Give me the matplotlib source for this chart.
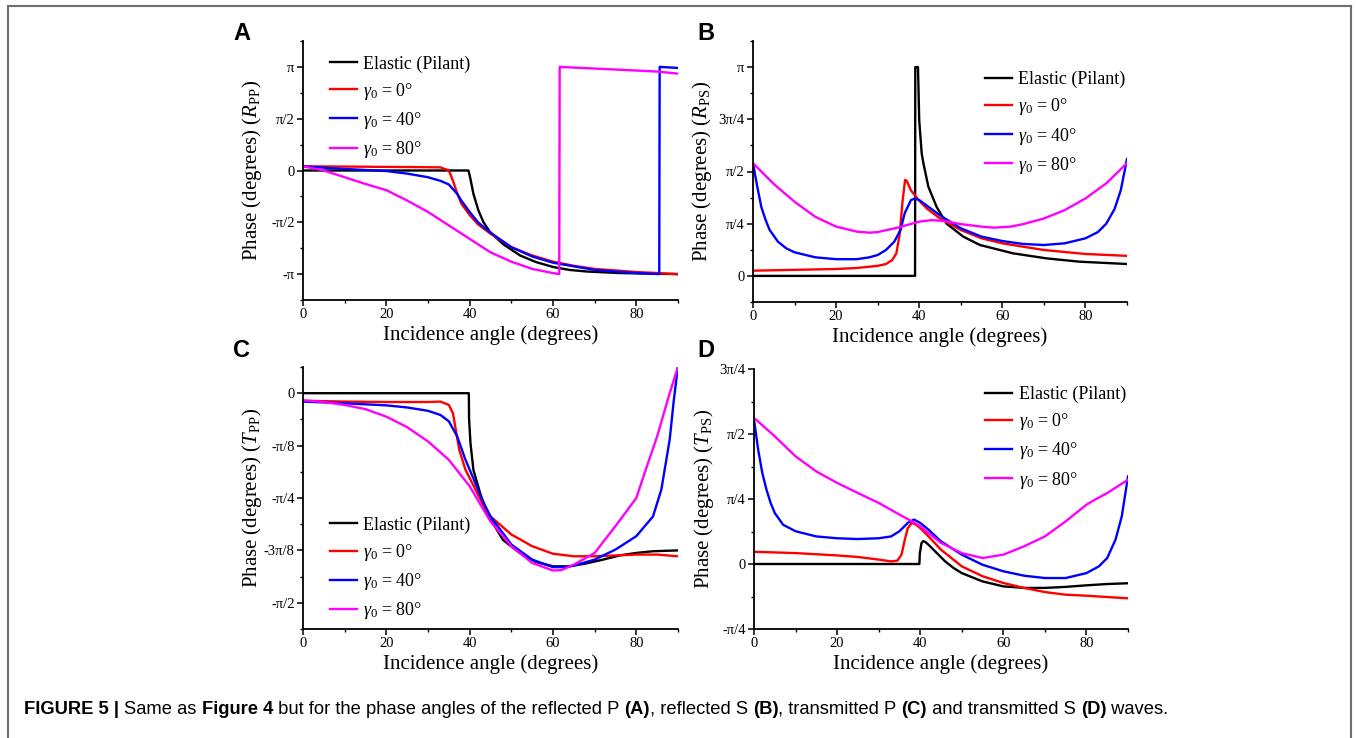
import numpy as np
import matplotlib
matplotlib.use("Agg")
import matplotlib.pyplot as plt
from matplotlib.lines import Line2D
from matplotlib.ticker import MultipleLocator, FixedLocator

plt.rcParams.update({
    "font.family": "Liberation Serif",
    "mathtext.fontset": "custom",
    "mathtext.rm": "Liberation Serif",
    "mathtext.it": "Liberation Serif:italic",
    "axes.linewidth": 1.3,
})

W, H = 1356, 738
PI = np.pi

LABELS = ["Elastic (Pilant)", r"$\gamma_0$ = 0°", r"$\gamma_0$ = 40°", r"$\gamma_0$ = 80°"]
COLORS = ["black", "#ff0000", "#0000ff", "#ff00ff"]

# ---- panel A: R_PP phase (units of pi) ----
a_el_x = [0, 39.7, 40.1, 40.9, 42.1, 43.3, 44.9, 48.1, 52.1, 56, 60.1, 64, 68.1, 76, 90]
a_el_y = [0, 0, -0.064, -0.225, -0.386, -0.498, -0.595, -0.713, -0.82, -0.885, -0.932, -0.96, -0.975, -0.99, -1.0]
a_g0_x = [0, 10, 20, 30, 33, 35, 36, 37, 38, 40, 42, 45, 50, 55, 60, 65, 70, 80, 90]
a_g0_y = [0.04, 0.038, 0.035, 0.032, 0.03, 0.0, -0.1, -0.22, -0.32, -0.43, -0.52, -0.61, -0.74, -0.82, -0.88, -0.92, -0.95, -0.98, -1.0]
a_g40_x = [0, 10, 20, 25, 30, 33, 35, 37, 38, 40, 42, 45, 50, 55, 60, 70, 80, 85.5, 85.6, 90]
a_g40_y = [0.04, 0.015, -0.005, -0.03, -0.065, -0.1, -0.135, -0.225, -0.29, -0.40, -0.5, -0.6, -0.74, -0.83, -0.89, -0.96, -0.99, -1.0, 1.0, 0.99]
a_g80_x = [0, 5, 10, 15, 20, 25, 30, 35, 40, 45, 50, 55, 60, 61.5, 61.6, 70, 80, 85, 90]
a_g80_y = [0.04, 0.0, -0.065, -0.13, -0.19, -0.29, -0.40, -0.53, -0.66, -0.79, -0.88, -0.95, -0.99, -1.0, 1.0, 0.984, 0.965, 0.955, 0.935]

# ---- panel B: R_PS phase ----
b_el_x = [0, 39.0, 39.05, 39.7, 40.0, 40.6, 41.0, 42.2, 44.2, 46.6, 50.6, 54.6, 62.6, 70.6, 78.6, 90]
b_el_y = [0, 0, 1.0, 1.0, 0.745, 0.586, 0.54, 0.427, 0.33, 0.25, 0.188, 0.148, 0.108, 0.084, 0.068, 0.057]
b_g0_x = [0, 10, 20, 25, 30, 32, 33.5, 34.5, 35.3, 36, 36.6, 37, 38, 40, 42, 45, 50, 55, 60, 70, 80, 90]
b_g0_y = [0.025, 0.029, 0.033, 0.038, 0.048, 0.057, 0.076, 0.108, 0.2, 0.36, 0.46, 0.455, 0.41, 0.36, 0.32, 0.275, 0.22, 0.18, 0.156, 0.124, 0.105, 0.096]
b_g40_x = [0, 1, 2, 3, 4, 6, 8, 10, 15, 20, 25, 28, 30, 32, 34, 35.5, 36.5, 38, 39, 40, 42, 45, 50, 55, 60, 65, 70, 75, 80, 83, 85, 87, 88.5, 90]
b_g40_y = [0.54, 0.43, 0.33, 0.27, 0.22, 0.164, 0.132, 0.113, 0.089, 0.08, 0.08, 0.089, 0.1, 0.124, 0.164, 0.22, 0.3, 0.363, 0.371, 0.363, 0.334, 0.29, 0.228, 0.188, 0.167, 0.153, 0.148, 0.156, 0.18, 0.21, 0.25, 0.32, 0.41, 0.56]
b_g80_x = [0, 5, 10, 15, 20, 25, 28, 30, 35, 40, 43, 46, 50, 55, 58, 62, 65, 70, 75, 80, 85, 90]
b_g80_y = [0.54, 0.44, 0.355, 0.283, 0.236, 0.212, 0.207, 0.21, 0.232, 0.26, 0.267, 0.263, 0.248, 0.236, 0.231, 0.236, 0.248, 0.275, 0.315, 0.371, 0.443, 0.54]

# ---- panel C: T_PP phase ----
c_el_x = [0, 39.8, 39.85, 40.2, 40.9, 42.5, 44.1, 48, 52, 56, 60, 64, 68, 72, 76, 80, 84, 90]
c_el_y = [0, 0, -0.06, -0.12, -0.183, -0.238, -0.286, -0.35, -0.381, -0.403, -0.413, -0.413, -0.406, -0.397, -0.387, -0.381, -0.377, -0.375]
c_g0_x = [0, 10, 20, 30, 33, 35, 36, 36.8, 37.5, 39, 41, 43, 45, 50, 55, 60, 65, 70, 75, 80, 85, 90]
c_g0_y = [-0.018, -0.02, -0.021, -0.021, -0.02, -0.028, -0.048, -0.095, -0.135, -0.183, -0.222, -0.262, -0.294, -0.337, -0.365, -0.383, -0.389, -0.389, -0.387, -0.385, -0.385, -0.389]
c_g40_x = [0, 10, 20, 25, 30, 33, 35, 37, 39, 41, 43, 45, 50, 55, 60, 63, 65, 70, 75, 80, 84, 86, 88, 89, 90]
c_g40_y = [-0.02, -0.024, -0.029, -0.034, -0.042, -0.052, -0.067, -0.103, -0.159, -0.206, -0.254, -0.294, -0.361, -0.397, -0.415, -0.415, -0.411, -0.397, -0.373, -0.341, -0.294, -0.23, -0.111, -0.016, 0.065]
c_g80_x = [0, 5, 10, 15, 20, 25, 30, 35, 40, 45, 50, 55, 60, 62, 65, 70, 75, 80, 82, 85, 88, 90]
c_g80_y = [-0.017, -0.021, -0.028, -0.038, -0.056, -0.081, -0.115, -0.159, -0.222, -0.306, -0.365, -0.405, -0.423, -0.422, -0.409, -0.381, -0.317, -0.25, -0.19, -0.103, 0.0, 0.063]

# ---- panel D: T_PS phase ----
d_el_x = [0, 39.8, 39.9, 40.3, 40.7, 41.2, 42, 44, 46, 48, 50, 55, 60, 65, 70, 75, 80, 85, 90]
d_el_y = [0, 0, 0.04, 0.08, 0.088, 0.085, 0.074, 0.042, 0.01, -0.015, -0.035, -0.067, -0.086, -0.092, -0.092, -0.088, -0.082, -0.077, -0.074]
d_g0_x = [0, 10, 20, 25, 30, 33, 34.5, 35.5, 36.3, 37, 38, 39, 40, 42, 45, 50, 55, 60, 65, 70, 75, 80, 85, 90]
d_g0_y = [0.047, 0.042, 0.033, 0.027, 0.017, 0.01, 0.013, 0.036, 0.094, 0.138, 0.158, 0.151, 0.138, 0.106, 0.055, -0.009, -0.047, -0.073, -0.092, -0.108, -0.118, -0.122, -0.127, -0.132]
d_g40_x = [0, 1, 2, 3, 4, 5, 7, 10, 15, 20, 25, 30, 33, 35, 37, 38.5, 40, 42, 45, 50, 55, 60, 65, 70, 75, 80, 83, 85, 87, 88.5, 90]
d_g40_y = [0.555, 0.44, 0.35, 0.286, 0.235, 0.196, 0.151, 0.126, 0.106, 0.099, 0.096, 0.099, 0.106, 0.126, 0.158, 0.171, 0.158, 0.132, 0.087, 0.036, -0.003, -0.028, -0.045, -0.054, -0.054, -0.035, -0.009, 0.023, 0.094, 0.183, 0.337]
d_g80_x = [0, 5, 10, 15, 20, 25, 30, 35, 38, 40, 42, 45, 50, 55, 60, 65, 70, 75, 80, 82, 85, 90]
d_g80_y = [0.562, 0.491, 0.414, 0.356, 0.312, 0.273, 0.235, 0.19, 0.164, 0.145, 0.119, 0.081, 0.042, 0.023, 0.036, 0.068, 0.106, 0.164, 0.228, 0.247, 0.273, 0.324]

fig = plt.figure(figsize=(W / 100, H / 100), dpi=100)


def px_axes(left, top, right, bottom):
    return fig.add_axes([left / W, 1 - bottom / H, (right - left) / W, (bottom - top) / H])


def panel(ax, series, ylim, major, minor, ticklabels, ylab, ylab_x, leg_loc, leg_anchor):
    for (xs, ys), col, lab in zip(series, COLORS, LABELS):
        ax.plot(xs, np.array(ys) * PI, color=col, lw=1.7, label=lab)
    ax.set_xlim(0, 90)
    ax.set_ylim(ylim[0] * PI, ylim[1] * PI)
    ax.xaxis.set_major_locator(MultipleLocator(20))
    ax.xaxis.set_minor_locator(MultipleLocator(10))
    ax.yaxis.set_major_locator(FixedLocator([m * PI for m in major]))
    ax.yaxis.set_minor_locator(FixedLocator([m * PI for m in minor]))
    ax.set_yticklabels(ticklabels)
    for s in ("top", "right"):
        ax.spines[s].set_visible(False)
    ax.tick_params(which="major", direction="out", length=4, width=1.1, labelsize=10.5, pad=2)
    ax.tick_params(which="minor", direction="out", length=2.5, width=1.0)
    ax.set_xlabel("Incidence angle (degrees)", fontsize=15, labelpad=3)
    ax.set_ylabel(ylab, fontsize=15)
    # put the y label's right edge at a fixed pixel column
    bb = ax.get_position()
    ax.yaxis.set_label_coords((ylab_x / W - bb.x0) / bb.width, 0.5)
    ax.legend(loc=leg_loc, bbox_to_anchor=leg_anchor, frameon=False, fontsize=13,
              handlelength=1.5, handletextpad=0.35, labelspacing=0.45,
              borderpad=0, borderaxespad=0)


axA = px_axes(303, 41, 678, 300)
panel(axA, [(a_el_x, a_el_y), (a_g0_x, a_g0_y), (a_g40_x, a_g40_y), (a_g80_x, a_g80_y)],
      (-1.25, 1.25), [-1, -0.5, 0, 0.5, 1], np.arange(-1.25, 1.26, 0.25),
      ["-π", "-π/2", "0", "π/2", "π"], r"Phase (degrees) ($\mathit{R}_{\rm PP}$)", 264,
      "upper left", (0.072, 0.945))

axB = px_axes(753, 41, 1127, 302)
panel(axB, [(b_el_x, b_el_y), (b_g0_x, b_g0_y), (b_g40_x, b_g40_y), (b_g80_x, b_g80_y)],
      (-0.125, 1.125), [0, 0.25, 0.5, 0.75, 1], np.arange(-0.125, 1.126, 0.125),
      ["0", "π/4", "π/2", "3π/4", "π"], r"Phase (degrees) ($\mathit{R}_{\rm PS}$)", 714,
      "upper left", (0.62, 0.885))

axC = px_axes(303, 367, 678, 629)
panel(axC, [(c_el_x, c_el_y), (c_g0_x, c_g0_y), (c_g40_x, c_g40_y), (c_g80_x, c_g80_y)],
      (-0.5625, 0.0625), [-0.5, -0.375, -0.25, -0.125, 0], np.arange(-0.5625, 0.07, 0.0625),
      ["-π/2", "-3π/8", "-π/4", "-π/8", "0"], r"Phase (degrees) ($\mathit{T}_{\rm PP}$)", 264,
      "lower left", (0.072, 0.03))

axD = px_axes(754, 369, 1128, 629)
panel(axD, [(d_el_x, d_el_y), (d_g0_x, d_g0_y), (d_g40_x, d_g40_y), (d_g80_x, d_g80_y)],
      (-0.25, 0.75), [-0.25, 0, 0.25, 0.5, 0.75], np.arange(-0.25, 0.76, 0.125),
      ["-π/4", "0", "π/4", "π/2", "3π/4"], r"Phase (degrees) ($\mathit{T}_{\rm PS}$)", 716,
      "upper left", (0.618, 0.935))

# panel letters
for lab, x, y in [("A", 233, 40), ("B", 697, 40), ("C", 233, 357), ("D", 697, 357)]:
    fig.text(x / W, 1 - y / H, lab, family="Liberation Sans", weight="bold",
             fontsize=17, va="baseline", ha="left")

# frame around figure
frame_kw = dict(color="#6e6e6e", lw=1.5, transform=fig.transFigure)
fig.add_artist(Line2D([8 / W, 8 / W], [0, 1 - 6 / H], **frame_kw))
fig.add_artist(Line2D([8 / W, 1351 / W], [1 - 6 / H, 1 - 6 / H], **frame_kw))
fig.add_artist(Line2D([1351 / W, 1351 / W], [0, 1 - 6 / H], **frame_kw))

# caption with bold pieces
caption = [("FIGURE 5 | ", True), ("Same as ", False), ("Figure 4", True),
           (" but for the phase angles of the reflected P ", False), ("(A)", True),
           (", reflected S ", False), ("(B)", True), (", transmitted P ", False),
           ("(C)", True), (" and transmitted S ", False), ("(D)", True), (" waves.", False)]
renderer = fig.canvas.get_renderer()
xpos = 24
for txt, bold in caption:
    t = fig.text(xpos / W, 1 - 714 / H, txt, family="Liberation Sans",
                 weight="bold" if bold else "normal", fontsize=13.25, va="baseline")
    bb = t.get_window_extent(renderer)
    xpos += bb.width

fig.savefig("out.png", dpi=100)
